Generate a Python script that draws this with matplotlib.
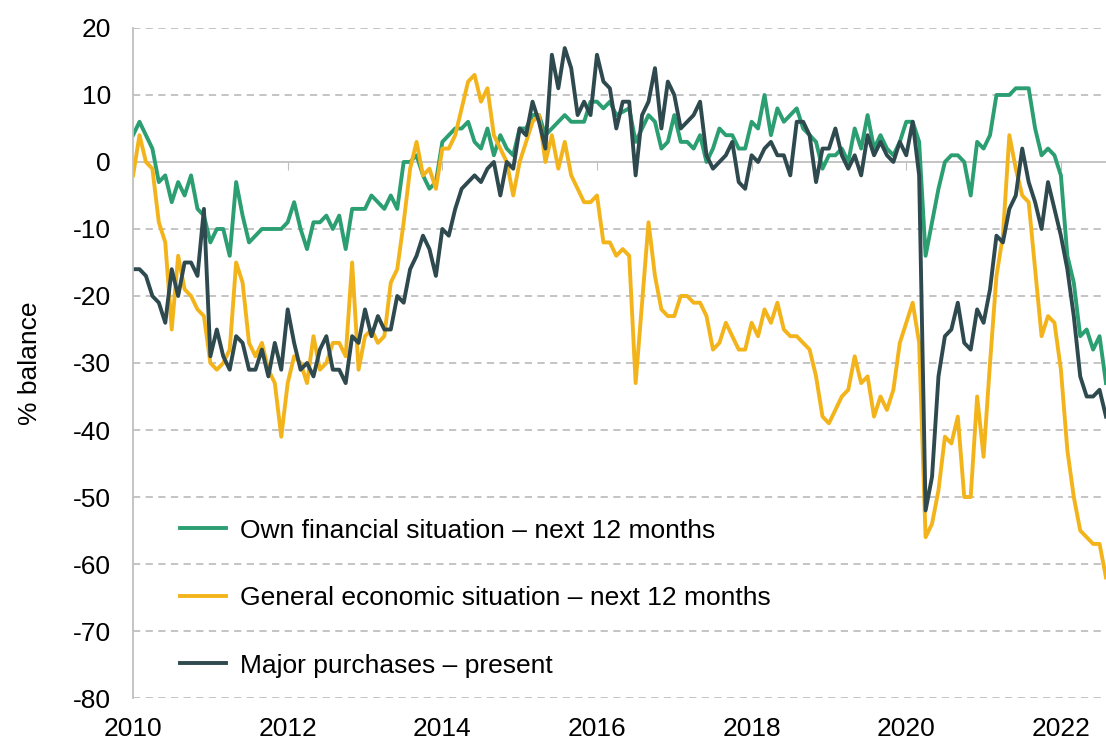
import numpy as np
import matplotlib
matplotlib.use("Agg")
import matplotlib.pyplot as plt

plt.rcParams['font.family'] = ['Liberation Sans', 'DejaVu Sans']

# monthly balances, Jan 2010 - Aug 2022
own_finances = [
    4, 6, 4, 2, -3, -2, -6, -3, -5, -2, -7, -8,
    -12, -10, -10, -14, -3, -8, -12, -11, -10, -10, -10, -10,
    -9, -6, -10, -13, -9, -9, -8, -10, -8, -13, -7, -7,
    -7, -5, -6, -7, -5, -7, 0, 0, 1, -2, -4, -3,
    3, 4, 5, 5, 6, 3, 2, 5, 1, 4, 2, 1,
    5, 5, 7, 7, 4, 5, 6, 7, 6, 6, 6, 9,
    9, 8, 9, 7, 7.5, 8, 3, 5, 7, 6, 2, 3,
    7, 3, 3, 2, 4, 0, 2, 5, 4, 4, 2, 2,
    6, 5, 10, 4, 8, 6, 7, 8, 5, 4, 3, -1,
    1, 1, 2, 0, 5, 2, 7, 2, 4, 2, 1, 3,
    6, 6, 3, -14, -9, -4, 0, 1, 1, 0, -5, 3,
    2, 4, 10, 10, 10, 11, 11, 11, 5, 1, 2, 1,
    -2, -14, -18, -26, -25, -28, -26, -33,
]
general_economy = [
    -2, 4, 0, -1, -9, -12, -25, -14, -19, -20, -22, -23,
    -30, -31, -30, -28, -15, -18, -27, -29, -27, -31, -33, -41,
    -33, -29, -30, -33, -26, -31, -30, -27, -27, -29, -15, -31,
    -26, -25, -27, -26, -18, -16, -9, -1, 3, -2, -1, -4,
    2, 2, 4, 8, 12, 13, 9, 11, 4, 2, 0, -5,
    0, 3, 6, 7, 0, 4, -1, 3, -2, -4, -6, -6,
    -5, -12, -12, -14, -13, -14, -33, -21, -9, -17, -22, -23,
    -23, -20, -20, -21, -21, -23, -28, -27, -24, -26, -28, -28,
    -24, -26, -22, -24, -21, -25, -26, -26, -27, -28, -32, -38,
    -39, -37, -35, -34, -29, -33, -32, -38, -35, -37, -34, -27,
    -24, -21, -27, -56, -54, -49, -41, -42, -38, -50, -50, -35,
    -44, -30, -17, -11, 4, -1, -5, -6, -16, -26, -23, -24,
    -31, -43, -50, -55, -56, -57, -57, -62,
]
major_purchases = [
    -16, -16, -17, -20, -21, -24, -16, -20, -15, -15, -17, -7,
    -29, -25, -29, -31, -26, -27, -31, -31, -28, -32, -27, -31,
    -22, -27, -31, -30, -32, -28, -26, -31, -31, -33, -26, -27,
    -22, -26, -23, -25, -25, -20, -21, -16, -14, -11, -13, -17,
    -10, -11, -7, -4, -3, -2, -3, -1, 0, -5, 0, -1,
    5, 4, 9, 6, 2, 16, 11, 17, 14, 7, 9, 7,
    16, 12, 11, 5, 9, 9, -2, 7, 9, 14, 5, 12,
    10, 5, 6, 7, 9, 1, -1, 0, 1, 3, -3, -4,
    1, 0, 2, 3, 1, 1, -2, 6, 6, 4, -3, 2,
    2, 5, 1, -1, 1, -2, 4, 1, 3, 1, 0, 3,
    1, 6, -2, -52, -47, -32, -26, -25, -21, -27, -28, -22,
    -24, -19, -11, -12, -7, -5, 2, -3, -6, -10, -3, -7,
    -11, -16, -23, -32, -35, -35, -34, -38,
]
labels = [
    "Own financial situation \u2013 next 12 months",
    "General economic situation \u2013 next 12 months",
    "Major purchases \u2013 present",
]
colors = ["#2b9e72", "#f3b41b", "#2f4a4f"]

dates = 2010 + np.arange(len(own_finances)) / 12.0

fig = plt.figure(figsize=(11.06, 7.44), dpi=100)
ax = fig.add_axes([0.1203, 0.0618, 0.8797, 0.9006])

for series, lab, col in zip([own_finances, general_economy, major_purchases], labels, colors):
    ax.plot(dates, series, color=col, lw=2.8, label=lab)

ax.set_xlim(2010, dates[-1])
ax.set_ylim(-80, 20)
ax.set_yticks(np.arange(-80, 21, 10))
ax.set_yticklabels([str(v) for v in range(-80, 21, 10)])
ax.set_xticks(np.arange(2010, 2023, 2))

grey = "#bfbfbf"
for v in range(-80, 21, 10):
    if v != 0:
        ax.axhline(v, color=grey, lw=1.3, ls=(0, (4, 3)), zorder=0)

for s in ["top", "right"]:
    ax.spines[s].set_visible(False)
ax.spines["left"].set_color(grey)
ax.spines["left"].set_linewidth(1.3)
ax.spines["bottom"].set_position(("data", 0))
ax.spines["bottom"].set_color(grey)
ax.spines["bottom"].set_linewidth(1.3)
ax.spines["bottom"].set_zorder(0)
ax.tick_params(axis="x", direction="out", length=6, color=grey, labelbottom=False)
ax.tick_params(axis="y", length=0, labelsize=19, pad=16)

sec = ax.secondary_xaxis(0)
sec.set_xticks(np.arange(2010, 2023, 2))
sec.set_xticklabels([str(y) for y in range(2010, 2023, 2)])
sec.tick_params(length=0, labelsize=19, pad=14)
sec.spines["bottom"].set_visible(False)

ax.set_ylabel("% balance", fontsize=19, labelpad=22)

ax.legend(loc="lower left", bbox_to_anchor=(0.024, -0.005), frameon=False,
          fontsize=19, labelspacing=1.65, handlelength=1.75, handletextpad=0.5)

fig.savefig("out.png", dpi=100)
